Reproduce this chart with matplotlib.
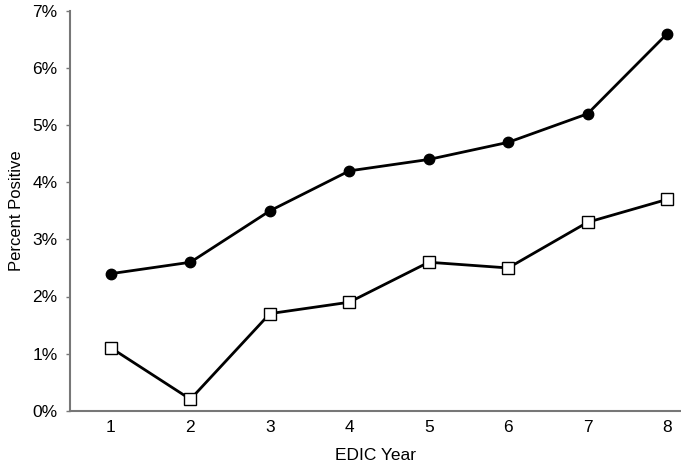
import matplotlib
matplotlib.use("Agg")
import matplotlib.pyplot as plt

years = [1, 2, 3, 4, 5, 6, 7, 8]
filled_series = [2.4, 2.6, 3.5, 4.2, 4.4, 4.7, 5.2, 6.6]
open_series = [1.1, 0.2, 1.7, 1.9, 2.6, 2.5, 3.3, 3.7]
y_ticks = [0, 1, 2, 3, 4, 5, 6, 7]
y_labels = ["0%", "1%", "2%", "3%", "4%", "5%", "6%", "7%"]

plt.rcParams['font.family'] = ['Liberation Sans', 'DejaVu Sans']
FS = 12.5

fig = plt.figure(figsize=(6.81, 4.69), dpi=100)
ax = fig.add_axes([70/681, (469-410.7)/469, 1 - 70/681, (410.7-11)/469])

ax.plot(years, filled_series, color='black', lw=2, marker='o', markersize=7.5,
        markerfacecolor='black', markeredgecolor='black', clip_on=False, zorder=3)
ax.plot(years, open_series, color='black', lw=2, marker='s', markersize=8,
        markerfacecolor='white', markeredgecolor='black', markeredgewidth=1, clip_on=False, zorder=3)

ax.set_xlim(0.484, 8.176)
ax.set_ylim(0, 7)
ax.set_xticks(years)
ax.set_yticks(y_ticks)
ax.set_yticklabels(y_labels)
ax.tick_params(axis='x', length=0, pad=7, labelsize=FS)
ax.tick_params(axis='y', length=3, width=1, color='#777777', pad=6, labelsize=FS)
for s in ['top', 'right']:
    ax.spines[s].set_visible(False)
for s in ['left', 'bottom']:
    ax.spines[s].set_color('#777777')
    ax.spines[s].set_linewidth(1.5)
ax.set_xlabel('EDIC Year', fontsize=FS, labelpad=9)
ax.set_ylabel('Percent Positive', fontsize=12, labelpad=6)

fig.savefig('out.png', dpi=100)
